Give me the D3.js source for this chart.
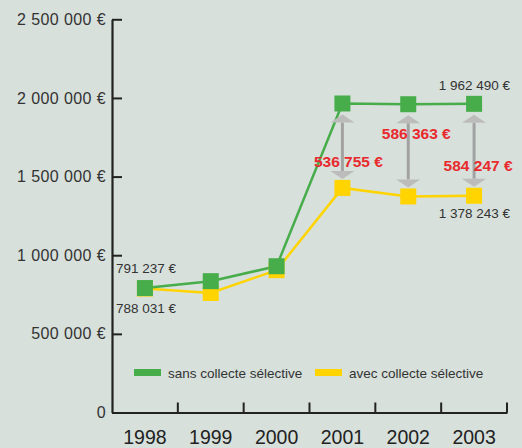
<!DOCTYPE html>
<html>
<head>
<meta charset="utf-8">
<script src="https://cdn.jsdelivr.net/npm/d3@7"></script>
<style>
  body { margin: 0; background: #d7e0db; }
  svg { display: block; font-family: "Liberation Sans", Arial, sans-serif; }
</style>
</head>
<body>
<script>
let width = 522;
let height = 448;

let years = ['1998', '1999', '2000', '2001', '2002', '2003'];
let sans = [791237, 835000, 930000, 1964755, 1960000, 1962490];
let avec = [788031, 760000, 905000, 1428000, 1373637, 1378243];
let yTicks = [0, 500000, 1000000, 1500000, 2000000, 2500000];
let yTickLabels = ['0', '500 000 €', '1 000 000 €', '1 500 000 €', '2 000 000 €', '2 500 000 €'];
let gapLabels = ['536 755 €', '586 363 €', '584 247 €'];
let seriesNames = ['sans collecte sélective', 'avec collecte sélective'];

let green = '#46ad4a';
let yellow = '#ffd400';

let x = d3.scaleBand().domain(years).range([112, 507]);
let y = d3.scaleLinear().domain([0, 2500000]).range([412.5, 19.3]);
let cx = function(d){ return x(d) + x.bandwidth() / 2; };

let fmt = function(v){ return d3.format(',')(v).replace(/,/g, ' ') + ' €'; };

let svg = d3.select('body')
.append('svg')
.attr('width', width)
.attr('height', height);

// y axis
let yAxis = svg.append('g')
.attr('transform', 'translate(112,0)')
.call(d3.axisLeft(y)
  .tickValues(yTicks)
  .tickFormat(function(d, i){ return yTickLabels[i]; })
  .tickSizeInner(-10)
  .tickSizeOuter(0)
  .tickPadding(6));
yAxis.selectAll('line').attr('stroke', '#222').attr('stroke-width', 2);
yAxis.select('.domain').attr('stroke', '#222').attr('stroke-width', 2.2);
yAxis.selectAll('text')
.attr('fill', '#333')
.attr('font-size', 16)
.attr('letter-spacing', 0.4)
.attr('font-family', '"Liberation Sans", Arial, sans-serif');

// x axis
let xAxis = svg.append('g')
.attr('transform', 'translate(0,412.5)')
.call(d3.axisBottom(x).tickSize(0).tickPadding(18));
xAxis.select('.domain').attr('stroke', '#222').attr('stroke-width', 2.2);
xAxis.selectAll('text')
.attr('fill', '#222')
.attr('font-size', 19.5)
.attr('font-family', '"Liberation Sans", Arial, sans-serif');
xAxis.selectAll('.bt')
.data(years)
.enter()
.append('line')
.attr('x1', function(d){ return x(d) + x.bandwidth(); })
.attr('x2', function(d){ return x(d) + x.bandwidth(); })
.attr('y1', 0)
.attr('y2', -10)
.attr('stroke', '#222')
.attr('stroke-width', 2);

// lines
let line = function(vals){
  return d3.line()
  .x(function(d, i){ return cx(years[i]); })
  .y(function(d){ return y(d); })(vals);
};

svg.append('path').attr('d', line(avec)).attr('fill', 'none').attr('stroke', yellow).attr('stroke-width', 2.5);
svg.append('path').attr('d', line(sans)).attr('fill', 'none').attr('stroke', green).attr('stroke-width', 2.5);

let sq = 16;
[[avec, yellow], [sans, green]].forEach(function(s){
  svg.append('g')
  .selectAll('rect')
  .data(s[0])
  .enter()
  .append('rect')
  .attr('x', function(d, i){ return cx(years[i]) - sq / 2; })
  .attr('y', function(d){ return y(d) - sq / 2; })
  .attr('width', sq)
  .attr('height', sq)
  .attr('fill', s[1]);
});

// gap arrows 2001-2003
let arrows = svg.append('g');
[3, 4, 5].forEach(function(i){
  let ax = cx(years[i]);
  let top = y(sans[i]) + 11;
  let bot = y(avec[i]) - 9;
  arrows.append('line')
  .attr('x1', ax).attr('x2', ax)
  .attr('y1', top + 8).attr('y2', bot - 8)
  .attr('stroke', '#a2a2a2').attr('stroke-width', 3);
  arrows.append('path')
  .attr('d', 'M' + ax + ',' + top + 'L' + (ax + 12) + ',' + (top + 8) + 'L' + (ax - 12) + ',' + (top + 8) + 'Z')
  .attr('fill', '#bcbcbc');
  arrows.append('path')
  .attr('d', 'M' + ax + ',' + bot + 'L' + (ax + 12) + ',' + (bot - 8) + 'L' + (ax - 12) + ',' + (bot - 8) + 'Z')
  .attr('fill', '#bcbcbc');
});

// value labels
let labels = svg.append('g')
.attr('font-size', 13.5)
.attr('fill', '#333');
labels.append('text').attr('x', cx(years[0]) - 29).attr('y', y(sans[0]) - 15).text(fmt(sans[0]));
labels.append('text').attr('x', cx(years[0]) - 29).attr('y', y(avec[0]) + 24).text(fmt(avec[0]));
labels.append('text').attr('x', 510).attr('text-anchor', 'end').attr('y', y(sans[5]) - 14).text(fmt(sans[5]));
labels.append('text').attr('x', 510).attr('text-anchor', 'end').attr('y', y(avec[5]) + 22).text(fmt(avec[5]));

let red = svg.append('g')
.attr('font-size', 15.5)
.attr('font-weight', 'bold')
.attr('fill', '#e82a2e')
.attr('text-anchor', 'middle');
red.append('text').attr('x', cx(years[3]) + 6).attr('y', 166.7).text(gapLabels[0]);
red.append('text').attr('x', cx(years[4]) + 8).attr('y', 139.3).text(gapLabels[1]);
red.append('text').attr('x', cx(years[5]) + 4).attr('y', 171).text(gapLabels[2]);

// legend
let legend = svg.append('g').attr('font-size', 13.5).attr('fill', '#333');
let legX = [134, 315];
[green, yellow].forEach(function(c, i){
  legend.append('rect').attr('x', legX[i]).attr('y', 369).attr('width', 27).attr('height', 7).attr('fill', c);
  legend.append('text').attr('x', legX[i] + 34).attr('y', 378).text(seriesNames[i]);
});
</script>
</body>
</html>
